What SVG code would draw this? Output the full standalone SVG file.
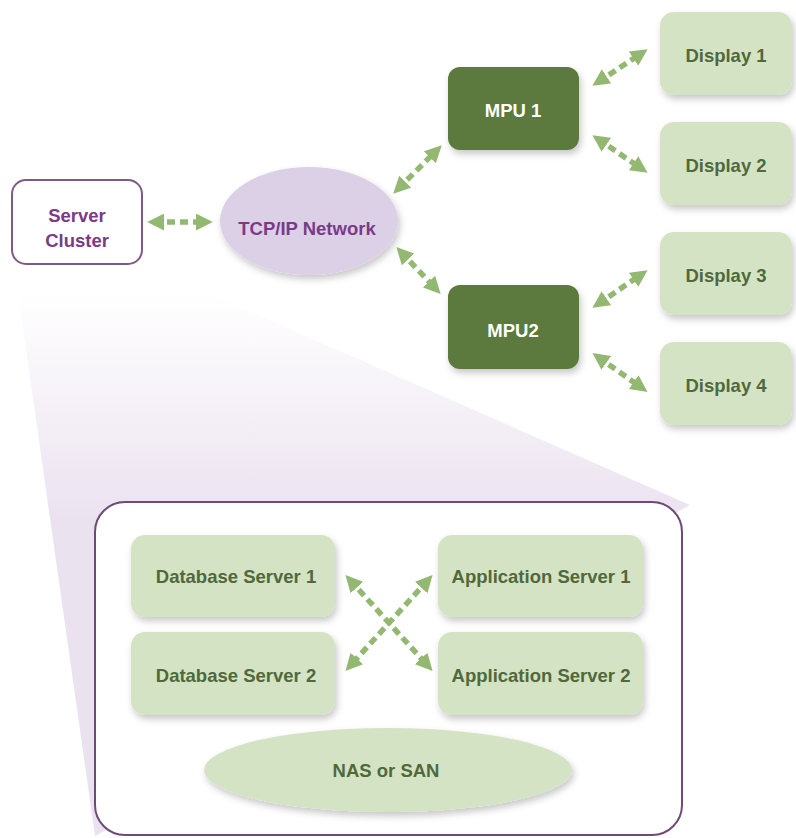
<svg xmlns="http://www.w3.org/2000/svg" width="796" height="838" viewBox="0 0 796 838">
<style>
  .lbl { font-family: "Liberation Sans", Arial, Helvetica, sans-serif; font-weight: bold; font-size: 18.5px; text-anchor: middle; }
  .purple { fill: #7b3a86; }
  .green { fill: #4f693b; }
  .white { fill: #ffffff; }
  .disp { fill: #d5e3c5; filter: url(#sh); }
  .mpu { fill: #5b7a3c; filter: url(#sh); }
  .conn { fill: none; stroke: #93b872; stroke-width: 5.5; stroke-dasharray: 8 5; marker-start: url(#ah); marker-end: url(#ah); }
</style>
<defs>
  <filter id="sh" x="-20%" y="-20%" width="140%" height="150%">
    <feDropShadow dx="2" dy="4" stdDeviation="3.5" flood-color="#000" flood-opacity="0.22"/>
  </filter>
  <marker id="ah" viewBox="0 0 10 10" refX="6" refY="5" markerUnits="userSpaceOnUse" markerWidth="17" markerHeight="17" orient="auto-start-reverse">
    <path d="M0,0 L10,5 L0,10 Z" fill="#93b872"/>
  </marker>
  <linearGradient id="beam" x1="0" y1="295" x2="0" y2="520" gradientUnits="userSpaceOnUse">
    <stop offset="0" stop-color="#ebe2f0" stop-opacity="0"/>
    <stop offset="1" stop-color="#ebe2f0" stop-opacity="1"/>
  </linearGradient>
</defs>
<rect width="796" height="838" fill="#ffffff"/>
<polygon points="14,264 142,264 690,505 95,836" fill="url(#beam)"/>

<g id="server-cluster">
  <rect x="12" y="180" width="130" height="84" rx="14" fill="#ffffff" stroke="#7e5a86" stroke-width="2"/>
  <text class="lbl purple" x="77" y="222">Server</text>
  <text class="lbl purple" x="77" y="247">Cluster</text>
</g>
<g id="tcpip-network">
  <ellipse cx="309" cy="221" rx="89" ry="54" fill="#dcd0e6" filter="url(#sh)"/>
  <text class="lbl purple" x="307" y="235">TCP/IP Network</text>
</g>
<g id="mpu1">
  <rect class="mpu" x="448" y="67" width="131" height="83" rx="12"/>
  <text class="lbl white" x="513" y="117">MPU 1</text>
</g>
<g id="mpu2">
  <rect class="mpu" x="448" y="285" width="131" height="84" rx="12"/>
  <text class="lbl white" x="513" y="337">MPU2</text>
</g>
<g id="display1">
  <rect class="disp" x="660" y="12" width="132" height="83" rx="14"/>
  <text class="lbl green" x="726" y="62">Display 1</text>
</g>
<g id="display2">
  <rect class="disp" x="660" y="122" width="132" height="83" rx="14"/>
  <text class="lbl green" x="726" y="172">Display 2</text>
</g>
<g id="display3">
  <rect class="disp" x="660" y="232" width="132" height="83" rx="14"/>
  <text class="lbl green" x="726" y="282">Display 3</text>
</g>
<g id="display4">
  <rect class="disp" x="660" y="342" width="132" height="83" rx="14"/>
  <text class="lbl green" x="726" y="392">Display 4</text>
</g>

<g id="server-cluster-detail">
  <rect x="95" y="502" width="587" height="333" rx="30" fill="#ffffff" stroke="#6e4a76" stroke-width="2"/>
</g>
<g id="db1">
  <rect class="disp" x="131" y="535" width="204" height="82" rx="14"/>
  <text class="lbl green" x="236" y="583">Database Server 1</text>
</g>
<g id="db2">
  <rect class="disp" x="131" y="632" width="204" height="83" rx="14"/>
  <text class="lbl green" x="236" y="682">Database Server 2</text>
</g>
<g id="app1">
  <rect class="disp" x="438" y="535" width="205" height="82" rx="14"/>
  <text class="lbl green" x="541" y="583">Application Server 1</text>
</g>
<g id="app2">
  <rect class="disp" x="438" y="632" width="205" height="83" rx="14"/>
  <text class="lbl green" x="541" y="682">Application Server 2</text>
</g>
<g id="nas-san">
  <ellipse cx="388" cy="770" rx="184" ry="42" fill="#d5e3c5" filter="url(#sh)"/>
  <text class="lbl green" x="386" y="777">NAS or SAN</text>
</g>

<g id="connectors">
  <line class="conn" x1="154" y1="222" x2="206" y2="222"/>
  <line class="conn" x1="398" y1="189" x2="437" y2="150"/>
  <line class="conn" x1="401" y1="252" x2="436" y2="289"/>
  <line class="conn" x1="598" y1="82" x2="642" y2="53"/>
  <line class="conn" x1="598" y1="139" x2="642" y2="169"/>
  <line class="conn" x1="598" y1="304" x2="642" y2="274"/>
  <line class="conn" x1="598" y1="357" x2="642" y2="388"/>
  <line class="conn" x1="350" y1="580" x2="428" y2="666"/>
  <line class="conn" x1="428" y1="580" x2="350" y2="666"/>
</g>
</svg>
